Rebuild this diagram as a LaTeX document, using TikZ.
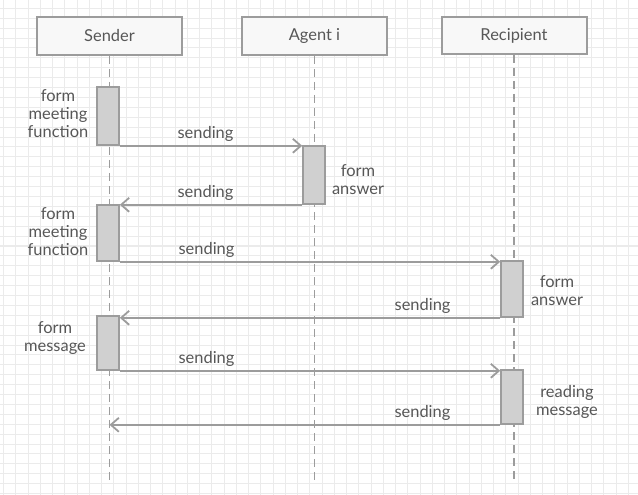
\documentclass[tikz,border=0pt]{standalone}
\usepackage{fontspec}
\setmainfont{Lato}
\usetikzlibrary{arrows.meta}
\definecolor{gridc}{HTML}{EBEBEB}
\definecolor{edgec}{HTML}{9C9C9C}
\definecolor{txtc}{HTML}{575757}
\definecolor{actc}{HTML}{D0D0D0}
\definecolor{headc}{HTML}{F8F8F8}
\begin{document}
\begin{tikzpicture}[x=1bp,y=-1bp,
  font=\fontsize{16.5}{18}\selectfont, text=txtc,
  gridline/.style={draw=gridc, line width=1bp},
  header/.style={draw=edgec, fill=headc, line width=2bp, minimum width=145bp, minimum height=38bp, inner sep=0pt},
  lifeline/.style={draw=edgec, line width=1.8bp, dash pattern=on 8bp off 5bp},
  act/.style={draw=edgec, fill=actc, line width=1.6bp, minimum width=22bp, inner sep=0pt},
  msg/.style={draw=edgec, line width=1.8bp, -{Straight Barb[length=8bp,width=14bp,line width=1.8bp]}},
  lbl/.style={align=center, inner sep=0pt},
  mlbl/.style={inner sep=0pt, above=3bp}
]
\useasboundingbox (0,0) rectangle (638,495);
\fill[white] (0,0) rectangle (638,495);
% grid
\foreach \i in {0,...,51} \draw[gridline] ({3.7+12.25*\i},0) -- ({3.7+12.25*\i},495);
\foreach \j in {0,...,49} \draw[gridline] (0,{8.4+9.9*\j}) -- (638,{8.4+9.9*\j});
% headers
\node[header] (snd) at (109.5,36) {Sender};
\node[header] (agt) at (314.5,36) {Agent i};
\node[header, minimum height=37bp] (rcp) at (514,35.5) {Recipient};
% lifelines end points
\coordinate (sndE) at (109.5,484);
\coordinate (agtE) at (314.5,484);
\coordinate (rcpE) at (514,484);
\draw[lifeline] (snd.south) -- (sndE);
\draw[lifeline] (agt.south) -- (agtE);
\draw[lifeline] (rcp.south) -- (rcpE);
% activations
\node[act, minimum height=58bp] (s1) at (108,116) {};
\node[act, minimum height=58bp] (a1) at (314,175) {};
\node[act, minimum height=56bp] (s2) at (108,233) {};
\node[act, minimum height=56bp] (r1) at (512,289) {};
\node[act, minimum height=54bp] (s3) at (108,343) {};
\node[act, minimum height=54bp] (r2) at (512,397) {};
% messages
\draw[msg] (s1.south east) -- node[mlbl, pos=0.47] {sending} (s1.south east -| a1.west);
\draw[msg] (a1.south west) -- node[mlbl, pos=0.53] {sending} (a1.south west -| s2.east);
\draw[msg] (s2.south east) -- node[mlbl, pos=0.228] {sending} (s2.south east -| r1.west);
\draw[msg] (r1.south west) -- node[mlbl, pos=0.204] {sending} (r1.south west -| s3.east);
\draw[msg] (s3.south east) -- node[mlbl, pos=0.228] {sending} (s3.south east -| r2.west);
\draw[msg] (r2.south west) -- node[mlbl, pos=0.199] {sending} (r2.south west -| sndE);
% activity labels
\node[lbl] (t1) at (58,114) {form\\meeting\\function};
\node[lbl] (t2) at (358,180) {form\\answer};
\node[lbl] (t3) at (58,232) {form\\meeting\\function};
\node[lbl] (t4) at (557,291) {form\\answer};
\node[lbl] (t5) at (55,338) {form\\message};
\node[lbl] (t6) at (567,402) {reading\\message};
\end{tikzpicture}
\end{document}
